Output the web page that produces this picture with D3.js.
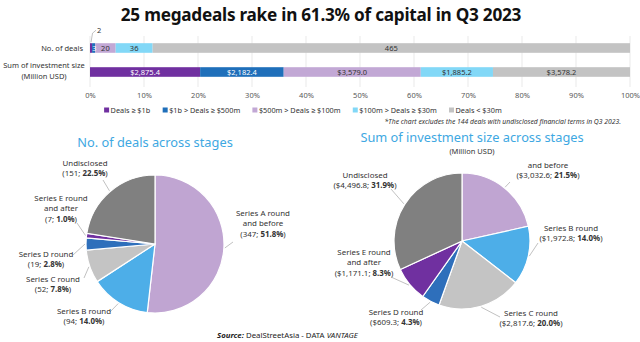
<!DOCTYPE html>
<html>
<head>
<meta charset="utf-8">
<script src="https://cdn.jsdelivr.net/npm/d3@7"></script>
<style>
  body { margin: 0; background: #fff; }
  svg { display: block; font-family: "Noto Sans", sans-serif; }
</style>
</head>
<body>
<div class="chart_container"></div>
<script>
// Deal size bands (stacked bars)
const rowNames = ["No. of deals", "Sum of investment size"];
const sizeBands = ["Deals \u2265 $1b", "$1b > Deals \u2265 $500m", "$500m > Deals \u2265 $100m", "$100m > Deals \u2265 $30m", "Deals < $30m"];
const dealCounts = [2, 3, 20, 36, 465];
const dealSums = [2875.4, 2182.4, 3579.0, 1885.2, 3578.2];
const bandColors = ["#7030a0", "#1f6fba", "#c2a8d5", "#82d8f7", "#c3c3c3"];

// Stages (pies)
const stages = ["Series A round and before", "Series B round", "Series C round", "Series D round", "Series E round and after", "Undisclosed"];
const stageLines = [["Series A round", "and before"], ["Series B round"], ["Series C round"], ["Series D round"], ["Series E round", "and after"], ["Undisclosed"]];
const stageDeals = [347, 94, 52, 19, 7, 151];
const stageSums = [3032.6, 1972.8, 2817.6, 609.3, 1171.1, 4496.8];
const stageColors = ["#c0a5d2", "#4daee8", "#c4c4c4", "#2e6fbb", "#7030a0", "#808080"];

const width = 640, height = 342;
const container = document.querySelector("div.chart_container");
container.innerHTML = `<svg width=${width} height=${height}></svg>`;
const svg = d3.select(container).select("svg");

// title
svg.append("text")
  .attr("x", 321).attr("y", 21)
  .attr("text-anchor", "middle")
  .attr("font-size", 17.2).attr("font-weight", 700)
  .attr("letter-spacing", -0.25)
  .attr("fill", "#111")
  .text("25 megadeals rake in 61.3% of capital in Q3 2023");

// ---- stacked 100% bars ----
const x = d3.scaleLinear().domain([0, 1]).range([90, 630]);
const y = d3.scaleBand().domain(rowNames).range([36, 84]).paddingInner(0.6).paddingOuter(0.3);

const grid = svg.append("g");
grid.selectAll("line")
  .data(x.ticks(10)).enter().append("line")
  .attr("x1", d => x(d)).attr("x2", d => x(d))
  .attr("y1", 36).attr("y2", 87)
  .attr("stroke", "#e3e3e3").attr("stroke-width", 0.8);

const xAxis = svg.append("g")
  .attr("transform", "translate(0,90)")
  .call(d3.axisBottom(x).ticks(10).tickFormat(d3.format(".0%")).tickSize(0));
xAxis.select(".domain").remove();
xAxis.selectAll("text")
  .attr("font-family", "Noto Sans, sans-serif")
  .attr("font-size", 7.5).attr("fill", "#595959");

function stackRow(name, values) {
  const total = d3.sum(values);
  const cum = d3.cumsum(values);
  const segs = values.map((v, i) => ({ v, i, x0: (cum[i] - v) / total, x1: cum[i] / total }));
  const g = svg.append("g");
  g.selectAll("rect").data(segs).enter().append("rect")
    .attr("x", d => x(d.x0)).attr("width", d => x(d.x1) - x(d.x0))
    .attr("y", y(name)).attr("height", y.bandwidth())
    .attr("fill", d => bandColors[d.i]);
  return { g, segs };
}

const rowH = y.bandwidth();
const countRow = stackRow(rowNames[0], dealCounts);
countRow.g.selectAll("text.val")
  .data(countRow.segs.filter(d => d.i > 0)).enter().append("text")
  .attr("class", "val")
  .attr("x", d => d.i === 1 ? x(d.x0) + 2.3 : (x(d.x0) + x(d.x1)) / 2)
  .attr("y", y(rowNames[0]) + rowH / 2 + 2.7)
  .attr("text-anchor", "middle").attr("font-size", 7.5)
  .attr("fill", d => d.i === 1 ? "#fff" : "#333")
  .text(d => d.v);
// smallest segment labelled above the bar
const first = countRow.segs[0];
const fx = (x(first.x0) + x(first.x1)) / 2;
const barTop = y(rowNames[0]);
countRow.g.append("path")
  .attr("d", `M${fx},${barTop - 1}L${fx + 1.5},${barTop - 10}L${fx + 5},${barTop - 13}`)
  .attr("fill", "none").attr("stroke", "#999").attr("stroke-width", 0.6);
countRow.g.append("text")
  .attr("x", fx + 6).attr("y", barTop - 10.5)
  .attr("font-size", 7.5).attr("fill", "#333")
  .text(first.v);

const sumRow = stackRow(rowNames[1], dealSums);
sumRow.g.selectAll("text.val")
  .data(sumRow.segs).enter().append("text")
  .attr("class", "val")
  .attr("x", d => (x(d.x0) + x(d.x1)) / 2)
  .attr("y", y(rowNames[1]) + rowH / 2 + 2.7)
  .attr("text-anchor", "middle").attr("font-size", 7.5)
  .attr("fill", d => d.i < 2 ? "#fff" : "#333")
  .text(d => d3.format("$,.1f")(d.v));

// row labels
svg.append("text")
  .attr("x", 83).attr("y", y(rowNames[0]) + rowH / 2 + 2.7)
  .attr("text-anchor", "end").attr("font-size", 7.5).attr("fill", "#333")
  .text(rowNames[0]);
const rl = svg.append("text")
  .attr("text-anchor", "middle").attr("font-size", 7.5).attr("fill", "#333");
rl.append("tspan").attr("x", 44).attr("y", y(rowNames[1]) + 1).text(rowNames[1]);
rl.append("tspan").attr("x", 44).attr("y", y(rowNames[1]) + 12).text("(Million USD)");

// legend
const legend = svg.append("g");
let lx = 0;
const items = legend.selectAll("g").data(sizeBands).enter().append("g");
items.append("rect").attr("y", -5.5).attr("width", 5).attr("height", 5).attr("fill", (d, i) => bandColors[i]);
items.append("text").attr("x", 6.5).attr("font-size", 7.3).attr("fill", "#333").text(d => d);
items.each(function () {
  d3.select(this).attr("transform", `translate(${lx},0)`);
  lx += this.getBBox().width + 12;
});
legend.attr("transform", `translate(${303 - (lx - 12) / 2},113)`);

svg.append("text")
  .attr("x", 621).attr("y", 124)
  .attr("text-anchor", "end").attr("font-size", 6.8).attr("font-style", "italic").attr("fill", "#333")
  .text("*The chart excludes the 144 deals with undisclosed financial terms in Q3 2023.");

// ---- pies ----
const pie = d3.pie().sort(null);

function drawPie(cx, cy, r, values, valueFmt, layout) {
  const total = d3.sum(values);
  const arcs = pie(values);
  const g = svg.append("g").attr("transform", `translate(${cx},${cy})`);
  g.selectAll("path").data(arcs).enter().append("path")
    .attr("d", d3.arc().innerRadius(0).outerRadius(r))
    .attr("fill", (d, i) => stageColors[i])
    .attr("stroke", "#fff").attr("stroke-width", 1.2);

  arcs.forEach((a, i) => {
    const L = layout[i];
    const mid = (a.startAngle + a.endAngle) / 2;
    const sx = Math.sin(mid) * (r + 1), sy = -Math.cos(mid) * (r + 1);
    g.append("line")
      .attr("x1", sx).attr("y1", sy).attr("x2", L.end[0]).attr("y2", L.end[1])
      .attr("stroke", "#a6a6a6").attr("stroke-width", 0.7);
    const lines = stageLines[i].slice(L.skip || 0);
    const t = g.append("text").attr("text-anchor", "middle").attr("font-size", 7.9).attr("fill", "#333");
    lines.forEach((ln, k) => {
      t.append("tspan").attr("x", L.tx).attr("y", L.ty + 2.8 + k * 10.5).text(ln);
    });
    const vt = t.append("tspan").attr("x", L.tx).attr("y", L.ty + 2.8 + lines.length * 10.5);
    vt.append("tspan").text(`(${valueFmt(values[i])}; `);
    vt.append("tspan").attr("font-weight", 700).text(d3.format(".1%")(values[i] / total));
    vt.append("tspan").text(")");
  });
  return g;
}

const titleColor = "#3ea8e2";
svg.append("text").attr("x", 155).attr("y", 147).attr("text-anchor", "middle")
  .attr("font-size", 12.8).attr("fill", titleColor).text("No. of deals across stages");
svg.append("text").attr("x", 472).attr("y", 142).attr("text-anchor", "middle")
  .attr("font-size", 12.8).attr("fill", titleColor).text("Sum of investment size across stages");
svg.append("text").attr("x", 472).attr("y", 154).attr("text-anchor", "middle")
  .attr("font-size", 7.5).attr("fill", "#333").text("(Million USD)");

drawPie(155, 244, 69, stageDeals, d3.format(","), [
  { end: [78, -2], tx: 108, ty: -31 },
  { end: [-45, 68], tx: -71, ty: 67 },
  { end: [-71, 34], tx: -102, ty: 35 },
  { end: [-82, 11], tx: -109, ty: 10 },
  { end: [-78, -21], tx: -94, ty: -46 },
  { end: [-52, -64], tx: -70, ty: -81 }
]);

drawPie(462, 241, 68, stageSums, d3.format("$,.1f"), [
  { end: [48, -59], tx: 86, ty: -76, skip: 1 },
  { end: [76, 2], tx: 109, ty: -13 },
  { end: [38, 76], tx: 69, ty: 72 },
  { end: [-41, 69], tx: -66, ty: 71 },
  { end: [-71, 36], tx: -98, ty: 11 },
  { end: [-71, -52], tx: -97, ty: -66 }
]);

// source line
const src = svg.append("text").attr("x", 217).attr("y", 338).attr("font-size", 7.8).attr("fill", "#222");
src.append("tspan").attr("font-weight", 700).attr("font-style", "italic").text("Source:");
src.append("tspan").text(" DealStreetAsia -  DATA ");
src.append("tspan").attr("font-style", "italic").text("VANTAGE");
</script>
</body>
</html>
